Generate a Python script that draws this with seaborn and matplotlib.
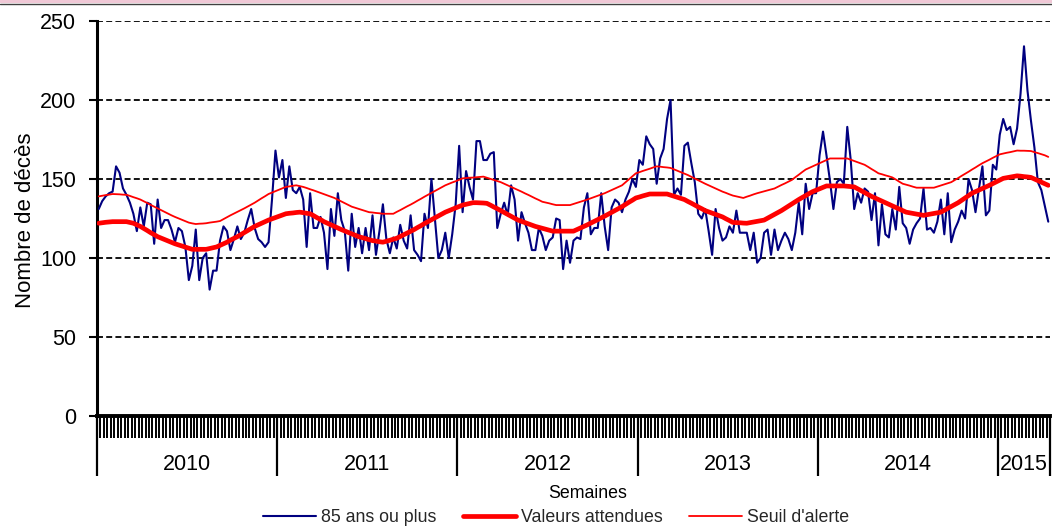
import numpy as np
import pandas as pd
import matplotlib
matplotlib.use("Agg")
import matplotlib.pyplot as plt
import seaborn as sns
from matplotlib.lines import Line2D
from matplotlib.transforms import blended_transform_factory

# Weekly series, first week of 2010 to week 15 of 2015
years = ["2010", "2011", "2012", "2013", "2014", "2015"]
weeks_per_year = [52, 52, 52, 52, 52, 15]

deaths_85_plus = [
    131, 136, 139, 141, 142, 158, 154, 144, 140, 135, 128, 117, 132,
    120, 135, 134, 109, 137, 119, 124, 124, 118, 110, 119, 117, 107,
    86, 95, 118, 86, 100, 103, 80, 92, 92, 111, 120, 117, 105,
    112, 120, 112, 116, 124, 131, 119, 112, 110, 107, 110, 137, 168,
    151, 162, 138, 158, 143, 141, 145, 137, 107, 141, 119, 119, 126,
    116, 93, 131, 114, 141, 124, 117, 92, 128, 107, 119, 103, 119,
    105, 127, 102, 117, 134, 112, 103, 113, 106, 121, 111, 106, 127,
    105, 102, 98, 128, 119, 150, 125, 100, 105, 116, 100, 115, 134,
    171, 129, 155, 145, 137, 174, 174, 162, 162, 166, 167, 119, 128,
    135, 127, 146, 137, 111, 129, 122, 116, 105, 105, 119, 114, 105,
    111, 113, 125, 124, 93, 111, 97, 111, 113, 112, 132, 141, 115,
    119, 119, 141, 120, 105, 132, 137, 135, 129, 137, 142, 150, 145,
    162, 159, 177, 172, 169, 147, 163, 169, 188, 200, 140, 144, 140,
    171, 173, 160, 148, 128, 125, 131, 117, 102, 131, 119, 111, 113,
    120, 116, 130, 116, 116, 116, 105, 116, 97, 100, 116, 118, 102,
    118, 105, 111, 116, 112, 105, 116, 135, 115, 147, 131, 141, 141,
    165, 180, 165, 149, 131, 148, 150, 147, 183, 162, 131, 141, 135,
    144, 142, 124, 141, 108, 134, 115, 113, 131, 118, 145, 122, 119,
    109, 118, 122, 125, 144, 118, 119, 116, 123, 137, 115, 141, 110,
    118, 123, 130, 125, 150, 143, 129, 144, 158, 127, 130, 159, 156,
    178, 188, 181, 183, 172, 182, 204, 234, 206, 187, 170, 148, 143, 133, 123,
]

expected_values = [
    122, 122.3, 122.6, 122.8, 123, 123, 123, 123, 123, 122.5, 122, 121, 120,
    118.7, 117.4, 116, 114.8, 113.5, 112.6, 111.7, 110.8, 109.9, 109, 108.3, 107.6, 106.9,
    106.2, 105.5, 105.5, 105.5, 105.5, 105.5, 106, 106.5, 107, 108, 109, 110, 111.3,
    112.4, 113.5, 114.8, 116.1, 117.4, 118.7, 120, 121, 122, 123, 124, 124.8, 125.6,
    126.4, 127.2, 128, 128.3, 128.5, 128.8, 129, 128.7, 128.3, 128, 126.8, 125.5, 124.3,
    123, 122, 121, 120, 119, 118, 117.1, 116.2, 115.3, 114.4, 113.5, 112.9, 112.3,
    111.6, 111, 110.7, 110.3, 110, 110.6, 111.2, 111.9, 112.5, 113.6, 114.7, 115.8, 116.9,
    118, 119.3, 120.5, 121.8, 123, 124.2, 125.4, 126.6, 127.8, 129, 129.9, 130.8, 131.7,
    132.6, 133.5, 134, 134.5, 135, 135, 134.9, 134.8, 134.6, 133.5, 132.3, 131.2, 130,
    128.8, 127.6, 126.4, 125.2, 124, 123.2, 122.4, 121.6, 120.8, 120, 119.4, 118.8, 118.2,
    117.6, 117, 117, 117, 117, 117, 117, 117, 118, 119, 120, 121, 122.1,
    123.2, 124.3, 125.4, 126.5, 127.7, 128.9, 130.1, 131.3, 132.5, 133.9, 135.3, 136.6, 138,
    138.6, 139.3, 139.9, 140.5, 140.5, 140.5, 140.5, 140.5, 140.5, 139.8, 139.1, 138.4, 137.7,
    137, 135.8, 134.7, 133.5, 132.3, 131.2, 130, 129.2, 128.4, 127.6, 126.8, 126, 124.8,
    123.7, 122.5, 122.4, 122.3, 122.1, 122, 122.4, 122.8, 123.2, 123.6, 124, 125.2, 126.4,
    127.6, 128.8, 130, 131.4, 132.8, 134.2, 135.6, 137, 138.3, 139.5, 140.8, 142, 142.9,
    143.8, 144.7, 145.6, 145.6, 145.6, 145.6, 145.6, 145.6, 145.4, 145.2, 145, 143.8, 142.6,
    141.4, 140.2, 139, 138, 137, 136, 135, 134, 133, 132, 131, 130, 129,
    128.6, 128.2, 127.8, 127.4, 127, 127.4, 127.8, 128.2, 128.6, 129, 130.2, 131.4, 132.6,
    133.8, 135, 136.5, 138, 139.5, 141, 142, 143, 144, 145, 146, 147.1, 148.2,
    149.3, 150.4, 150.8, 151.2, 151.6, 152, 151.8, 151.5, 151.3, 151, 150, 149, 148, 147, 146,
]

alert_threshold = [
    139, 139.4, 139.8, 140.1, 140.5, 140.4, 140.3, 140.1, 140, 139.3, 138.5, 137.8, 137,
    135.9, 134.8, 133.6, 132.5, 131.4, 130.3, 129.2, 128.1, 127, 126, 125.1, 124.2, 123.3,
    122.4, 121.9, 121.5, 121.7, 121.8, 122, 122.4, 122.7, 123, 123.4, 124.6, 125.8, 127,
    128.1, 129.2, 130.3, 131.4, 132.6, 133.8, 135, 136.4, 137.8, 139.1, 140.5, 141.4, 142.3,
    143.2, 144.1, 145, 145.3, 145.7, 146, 145.5, 145, 144.3, 143.5, 142.8, 142, 141.2,
    140.4, 139.6, 138.8, 138, 136.9, 135.8, 134.7, 133.6, 132.5, 131.8, 131.1, 130.4, 129.7,
    129, 128.8, 128.5, 128.3, 128, 128, 128, 128, 129.2, 130.3, 131.5, 132.7, 133.8,
    135, 136.3, 137.5, 138.8, 140, 141.2, 142.4, 143.6, 144.8, 146, 146.9, 147.8, 148.6,
    149.5, 150.4, 150.6, 150.8, 150.9, 151.1, 151.3, 151.5, 150.8, 150.1, 149.4, 148.7, 148,
    147, 146, 145, 144, 143, 142, 140.9, 139.9, 138.8, 137.7, 136.7, 135.6, 135.1,
    134.6, 134, 133.5, 133.5, 133.5, 133.5, 133.5, 134.2, 134.9, 135.6, 136.3, 137, 137.8,
    138.6, 139.4, 140.2, 141, 142, 143, 144, 145, 146, 147.9, 149.8, 151.7, 153.6,
    154.3, 155.1, 155.8, 156.5, 157.3, 158, 157.8, 157.5, 157.3, 157, 156.1, 155.2, 154.3,
    153.4, 152.5, 151.4, 150.3, 149.2, 148.1, 147, 146, 145, 144, 143, 142, 141.2,
    140.3, 139.5, 139, 138.5, 138, 138.8, 139.5, 140.3, 141, 141.6, 142.2, 142.8, 143.4,
    144, 145.1, 146.2, 147.2, 148.3, 149.4, 151.1, 152.7, 154.4, 156, 157, 158, 159,
    160, 161, 162, 163, 163, 163, 163, 163, 163, 162.2, 161.4, 160.6, 159.8,
    159, 157.7, 156.3, 155, 153.6, 153, 152.3, 151.7, 151, 149.7, 148.3, 147, 146.4,
    145.8, 145.1, 144.5, 144.5, 144.5, 144.5, 144.5, 144.5, 145.2, 145.9, 146.6, 147.3, 148,
    149.3, 150.6, 152, 153.3, 154.6, 156, 157.3, 158.7, 160, 161.1, 162.2, 163.4, 164.5,
    165.6, 166.1, 166.6, 167, 167.5, 168, 167.9, 167.9, 167.8, 167.7, 167, 166.4, 165.7, 165, 164,
]

y_ticks = [0, 50, 100, 150, 200, 250]
series_labels = ["85 ans ou plus", "Valeurs attendues", "Seuil d'alerte"]

sns.set_theme(style="white")
plt.rcParams["font.family"] = ["Liberation Sans", "DejaVu Sans"]

n_weeks = len(deaths_85_plus)
# each weekly point sits in the middle of its category slot
df = pd.DataFrame({
    "week": np.arange(n_weeks) + 0.5,
    "observed": deaths_85_plus,
    "expected": expected_values,
    "threshold": alert_threshold,
})

NAVY = "#000080"
RED = "#FF0000"

fig = plt.figure(figsize=(10.52, 5.30), dpi=100)
fig.patch.set_facecolor("white")
ax = fig.add_axes([97 / 1052, 1 - 416 / 530, 953 / 1052, 395 / 530])

# dashed horizontal gridlines
for v in y_ticks[1:]:
    ax.axhline(v, color="black", lw=1.3, ls=(0, (3.3, 1.8)), zorder=0)

sns.lineplot(data=df, x="week", y="observed", ax=ax, color=NAVY, lw=1.5, zorder=3)
sns.lineplot(data=df, x="week", y="expected", ax=ax, color=RED, lw=3.4, zorder=4)
sns.lineplot(data=df, x="week", y="threshold", ax=ax, color=RED, lw=1.3, zorder=5)

ax.set_xlim(0, n_weeks)
ax.set_ylim(0, 250)

for side in ["top", "right"]:
    ax.spines[side].set_visible(False)
ax.spines["left"].set_color("black")
ax.spines["left"].set_linewidth(2.2)
ax.spines["bottom"].set_color("black")
ax.spines["bottom"].set_linewidth(2.8)

# y axis
ax.set_yticks(y_ticks)
ax.tick_params(axis="y", direction="out", length=6, width=1.5, color="black",
               labelsize=15.5, pad=9, left=True, labelcolor="black")

# x axis: week ticks plus year separators
year_bounds = np.concatenate([[0], np.cumsum(weeks_per_year)])
ax.set_xticks(year_bounds)
ax.set_xticklabels([])
ax.set_xticks(np.arange(0, n_weeks + 1), minor=True)
ax.tick_params(axis="x", which="major", direction="out", length=43, width=1.6,
               color="black", bottom=True)
ax.tick_params(axis="x", which="minor", direction="out", length=15.5, width=1.4,
               color="black", bottom=True)

trans = blended_transform_factory(ax.transData, ax.transAxes)
for i, yr in enumerate(years):
    centre = (year_bounds[i] + year_bounds[i + 1]) / 2
    ax.text(centre, -49 / 395, yr, transform=trans, ha="center", va="center",
            fontsize=15.5, color="black")

ax.set_xlabel("Semaines", fontsize=12.8, color="black")
ax.xaxis.set_label_coords((588 - 97) / 953, -(493 - 416) / 395)
ax.xaxis.label.set_verticalalignment("center")

ax.set_ylabel("Nombre de décès", fontsize=16, color="black")
ax.yaxis.set_label_coords((26 - 97) / 953, (416 - 220) / 395)
ax.yaxis.label.set_verticalalignment("center")

# legend along the bottom edge
handles = [
    Line2D([], [], color=NAVY, lw=1.5),
    Line2D([], [], color=RED, lw=3.4),
    Line2D([], [], color=RED, lw=1.3),
]
fig.legend(handles, series_labels, loc="center", bbox_to_anchor=(556 / 1052, 1 - 518 / 530),
           ncol=3, frameon=False, fontsize=12.8, handlelength=3.0, handletextpad=0.25,
           columnspacing=1.5, borderaxespad=0, borderpad=0)

# thin banner rule across the top edge
fig.add_artist(Line2D([0, 1], [1 - 1 / 530, 1 - 1 / 530], transform=fig.transFigure,
                      color="#f0c8d6", lw=2.2))
fig.add_artist(Line2D([0, 1], [1 - 3.5 / 530, 1 - 3.5 / 530], transform=fig.transFigure,
                      color="#404040", lw=1.0))

fig.savefig("out.png", dpi=100, facecolor="white")
